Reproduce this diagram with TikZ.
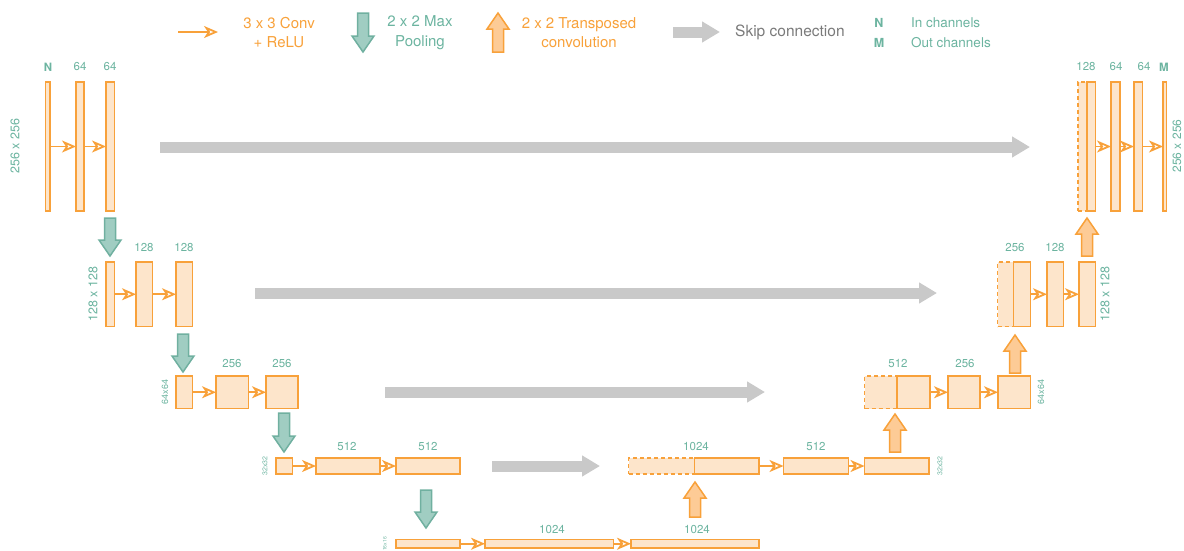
\documentclass[tikz,border=0pt]{standalone}
\usepackage{fontspec}
\setmainfont{TeX Gyre Heros}
\usetikzlibrary{arrows.meta}
\definecolor{org}{RGB}{248,161,58}
\definecolor{boxfill}{RGB}{253,229,203}
\definecolor{upfill}{RGB}{253,203,150}
\definecolor{tealtxt}{RGB}{108,180,160}
\definecolor{poolfill}{RGB}{160,205,194}
\definecolor{poolline}{RGB}{112,176,160}
\definecolor{skipgray}{RGB}{201,201,201}
\definecolor{skiptxt}{RGB}{122,122,122}
\newcommand\mkbox[6][]{\node[blk,#1,minimum width={(#5-#3)*1pt},minimum height={(#6-#4)*1pt}] (#2) at ({(#3+#5)/2},{(#4+#6)/2}) {};}
\newcommand\poolarr[3]{\draw[poolarrow] ({#1-5.5},#2) -- ({#1+5.5},#2) -- ({#1+5.5},{#3-16}) -- ({#1+11},{#3-16}) -- (#1,#3) -- ({#1-11},{#3-16}) -- ({#1-5.5},{#3-16}) -- cycle;}
\newcommand\uparr[3]{\draw[uparrow] ({#1-5.5},#3) -- ({#1+5.5},#3) -- ({#1+5.5},{#2+16}) -- ({#1+11},{#2+16}) -- (#1,#2) -- ({#1-11},{#2+16}) -- ({#1-5.5},{#2+16}) -- cycle;}
\tikzset{
  blk/.style={draw=org,fill=boxfill,line width=1.8pt,inner sep=0pt,outer sep=0pt},
  dblk/.style={dash pattern=on 4pt off 3pt},
  convtip/.tip={Stealth[open,length=14pt,width=12pt,inset=4pt,line width=1.8pt]},
  conv/.style={draw=org,line width=1.8pt,-convtip},
  skip/.style={draw=skipgray,line width=11pt,-{Triangle[length=18pt,width=20pt]}},
  poolarrow/.style={draw=poolline,fill=poolfill,line width=1.5pt,line join=miter},
  uparrow/.style={draw=org,fill=upfill,line width=1.5pt,line join=miter},
  lab/.style={text=tealtxt,font=\fontsize{11.5}{13}\selectfont,inner sep=0pt},
  blab/.style={text=tealtxt,font=\fontsize{11.5}{13}\selectfont\bfseries,inner sep=0pt},
  dim/.style={text=tealtxt,rotate=90,inner sep=0pt},
  leg/.style={align=center,font=\fontsize{15}{19.5}\selectfont,inner sep=0pt}
}
\begin{document}
\begin{tikzpicture}[x=1pt,y=-1pt]
\useasboundingbox (0,0) rectangle (1184,550);
% ---------- legend ----------
\coordinate (lc1) at (178,32); \coordinate (lc2) at (218,32);
\draw[conv] (lc1) -- (lc2);
\node[leg,text=org] (lt1) at (279,32.5) {3 x 3 Conv\\+ ReLU};
\poolarr{363}{13}{52}
\node[leg,text=tealtxt] (lt2) at (420,32.5) {2 x 2 Max\\Pooling};
\uparr{498}{13}{52}
\node[leg,text=org] (lt3) at (579,32.5) {2 x 2 Transposed\\convolution};
\coordinate (ls1) at (673,32); \coordinate (ls2) at (720,32);
\draw[skip] (ls1) -- (ls2);
\node[leg,text=skiptxt,anchor=west,font=\fontsize{15.5}{18}\selectfont] (lt4) at (735,32) {Skip connection};
\node[text=tealtxt,font=\fontsize{12.5}{14}\selectfont\bfseries,inner sep=0pt] (ln) at (879,23) {N};
\node[text=tealtxt,font=\fontsize{12.5}{14}\selectfont\bfseries,inner sep=0pt] (lm) at (879,43) {M};
\node[text=tealtxt,font=\fontsize{13.5}{15}\selectfont,anchor=west,inner sep=0pt] (lin) at (911,23) {In channels};
\node[text=tealtxt,font=\fontsize{13.5}{15}\selectfont,anchor=west,inner sep=0pt] (lout) at (911,43) {Out channels};
% ---------- level 1 (down) ----------
\mkbox{d1a}{45.5}{82}{50}{211}
\mkbox{d1b}{76}{82}{84}{211}
\mkbox{d1c}{106}{82}{114.5}{211}
\draw[conv] (d1a.east) -- (d1b.west);
\draw[conv] (d1b.east) -- (d1c.west);
\node[blab] at (48,67) {N};
\node[lab] at (80,67) {64};
\node[lab] at (110,67) {64};
\node[dim,font=\fontsize{12.5}{14}\selectfont] at (15,146) {256 x 256};
\poolarr{110}{218}{256}
% ---------- level 2 ----------
\mkbox{d2a}{106}{262}{114.5}{326.5}
\mkbox{d2b}{136}{262}{152.5}{326.5}
\mkbox{d2c}{176}{262}{192.5}{326.5}
\draw[conv] (d2a.east) -- (d2b.west);
\draw[conv] (d2b.east) -- (d2c.west);
\node[lab] at (144,248) {128};
\node[lab] at (184,248) {128};
\node[dim,font=\fontsize{12.5}{14}\selectfont] at (93,294) {128 x 128};
\poolarr{183}{334}{372}
% ---------- level 3 ----------
\mkbox{d3a}{176}{376}{192.5}{408.5}
\mkbox{d3b}{216}{376}{248.5}{408.5}
\mkbox{d3c}{266}{376}{298}{408.5}
\draw[conv] (d3a.east) -- (d3b.west);
\draw[conv] (d3b.east) -- (d3c.west);
\node[lab] at (232,364) {256};
\node[lab] at (282,364) {256};
\node[dim,font=\fontsize{9}{10}\selectfont] at (165,392) {64x64};
\poolarr{284}{413}{452}
% ---------- level 4 ----------
\mkbox{d4a}{276}{458}{292.5}{474}
\mkbox{d4b}{316}{458}{380}{474}
\mkbox{d4c}{396}{458}{460}{474}
\draw[conv] (d4a.east) -- (d4b.west);
\draw[conv] (d4b.east) -- (d4c.west);
\node[lab] at (347,447) {512};
\node[lab] at (428,447) {512};
\node[dim,font=\fontsize{7}{8}\selectfont] at (265,466) {32x32};
\poolarr{426}{490}{528}
% ---------- level 5 (bottom) ----------
\mkbox{b5a}{396}{539.5}{460}{548}
\mkbox{b5b}{485}{539.5}{613.5}{548}
\mkbox{b5c}{631}{539.5}{759}{548}
\draw[conv] (b5a.east) -- (b5b.west);
\draw[conv] (b5b.east) -- (b5c.west);
\node[lab] at (552,529) {1024};
\node[lab] at (697,529) {1024};
\node[dim,font=\fontsize{5}{6}\selectfont] at (385,544) {16x16};
\uparr{695}{482}{517}
% ---------- level 4 (up) ----------
\mkbox[dblk]{u4x}{628.5}{458}{694.5}{474}
\mkbox{u4a}{694.5}{458}{759}{474}
\mkbox{u4b}{783.5}{458}{848.5}{474}
\mkbox{u4c}{864.5}{458}{929}{474}
\draw[conv] (u4a.east) -- (u4b.west);
\draw[conv] (u4b.east) -- (u4c.west);
\node[lab] at (696,447) {1024};
\node[lab] at (816,447) {512};
\node[dim,font=\fontsize{7}{8}\selectfont] at (940,466) {32x32};
\uparr{895}{414}{452}
% ---------- level 3 (up) ----------
\mkbox[dblk]{u3x}{864.5}{376}{897}{408.5}
\mkbox{u3a}{897}{376}{930}{408.5}
\mkbox{u3b}{948}{376}{980}{408.5}
\mkbox{u3c}{998}{376}{1030.5}{408.5}
\draw[conv] (u3a.east) -- (u3b.west);
\draw[conv] (u3b.east) -- (u3c.west);
\node[lab] at (898,364) {512};
\node[lab] at (965,364) {256};
\node[dim,font=\fontsize{9}{10}\selectfont] at (1041,392) {64x64};
\uparr{1015}{335}{373}
% ---------- level 2 (up) ----------
\mkbox[dblk]{u2x}{997.5}{262}{1013.5}{326.5}
\mkbox{u2a}{1013.5}{262}{1030.5}{326.5}
\mkbox{u2b}{1047}{262}{1063.5}{326.5}
\mkbox{u2c}{1079}{262}{1095.5}{326.5}
\draw[conv] (u2a.east) -- (u2b.west);
\draw[conv] (u2b.east) -- (u2c.west);
\node[lab] at (1015,248) {256};
\node[lab] at (1055,248) {128};
\node[dim,font=\fontsize{12.5}{14}\selectfont] at (1105,294) {128 x 128};
\uparr{1087}{218}{256}
% ---------- level 1 (up) ----------
\mkbox[dblk]{u1x}{1078}{82}{1087}{211}
\mkbox{u1a}{1087}{82}{1095.5}{211}
\mkbox{u1b}{1111}{82}{1120}{211}
\mkbox{u1c}{1134}{82}{1142.5}{211}
\mkbox{u1d}{1163}{82}{1166.5}{211}
\draw[conv] (u1a.east) -- (u1b.west);
\draw[conv] (u1b.east) -- (u1c.west);
\draw[conv] (u1c.east) -- (u1d.west);
\node[lab] at (1086,67) {128};
\node[lab] at (1116,67) {64};
\node[lab] at (1144,67) {64};
\node[blab] at (1164,67) {M};
\node[dim,font=\fontsize{12}{14}\selectfont] at (1177,146) {256 x 256};
% ---------- skip connections ----------
\coordinate (s1a) at (160,147); \coordinate (s1b) at (1030,147);
\coordinate (s2a) at (255,293); \coordinate (s2b) at (937,293);
\coordinate (s3a) at (385,392); \coordinate (s3b) at (765,392);
\coordinate (s4a) at (492,466); \coordinate (s4b) at (600,466);
\draw[skip] (s1a) -- (s1b);
\draw[skip] (s2a) -- (s2b);
\draw[skip] (s3a) -- (s3b);
\draw[skip] (s4a) -- (s4b);
\end{tikzpicture}
\end{document}
